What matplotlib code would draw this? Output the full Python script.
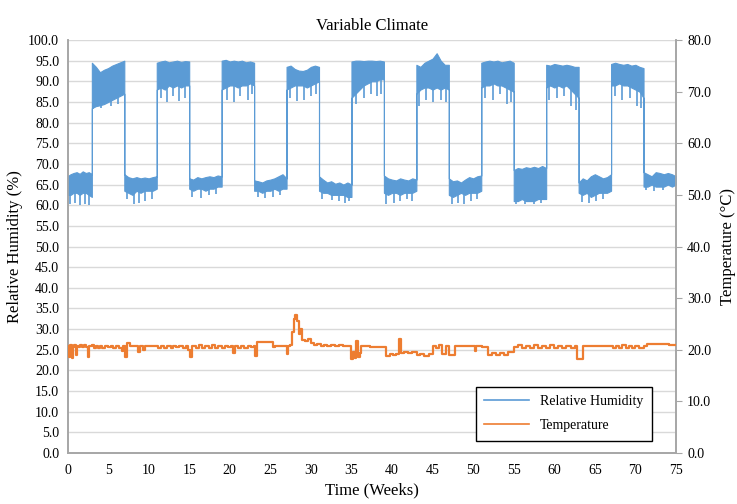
import numpy as np
import matplotlib.pyplot as plt
from matplotlib.lines import Line2D

plt.rcParams['font.family'] = ['Liberation Serif', 'DejaVu Serif']

# relative humidity: segment edges (weeks) and envelope (body low / high)
rh_edges = [0, 3, 7, 11, 15, 19, 23, 27, 31, 35, 39, 43, 47, 51, 55, 59, 63, 67, 71, 75]
rh_hi = [
    [67.0, 67.5, 67.8, 68.0, 67.6, 68.2, 67.8, 68.0, 67.5],
    [94.5, 93.5, 92.2, 92.8, 93.2, 93.8, 94.2, 94.6, 95.0],
    [67.5, 66.8, 66.5, 66.8, 66.5, 66.7, 66.5, 66.8, 67.0],
    [94.5, 94.8, 95.0, 94.6, 94.8, 95.0, 94.7, 94.9, 94.8],
    [66.5, 66.2, 66.8, 66.5, 66.8, 67.0, 66.8, 67.2, 67.0],
    [95.0, 95.2, 94.8, 95.0, 94.8, 95.0, 94.6, 94.8, 94.5],
    [66.0, 65.8, 65.5, 66.0, 66.2, 66.5, 67.0, 67.5, 66.5],
    [93.5, 93.8, 93.0, 92.6, 92.5, 92.8, 93.5, 93.8, 93.5],
    [67.0, 66.2, 65.5, 65.8, 65.2, 65.5, 65.0, 65.5, 65.0],
    [94.8, 95.0, 95.0, 94.9, 95.0, 95.0, 94.9, 95.0, 94.8],
    [67.2, 66.5, 66.2, 66.0, 66.5, 66.2, 66.0, 66.5, 66.2],
    [94.0, 93.5, 94.5, 95.0, 95.5, 96.8, 95.0, 94.0, 94.0],
    [66.5, 65.8, 66.0, 65.5, 66.2, 66.8, 66.5, 67.0, 67.2],
    [94.5, 94.8, 95.0, 94.8, 95.0, 94.6, 94.8, 95.0, 94.5],
    [68.5, 69.0, 68.8, 69.2, 69.0, 69.3, 69.0, 69.5, 69.0],
    [94.0, 93.8, 94.2, 94.0, 93.8, 94.0, 93.8, 93.5, 93.5],
    [65.5, 66.5, 66.0, 67.0, 67.5, 67.0, 66.5, 66.8, 67.5],
    [94.2, 94.5, 94.2, 94.0, 94.2, 93.8, 94.0, 93.5, 93.2],
    [68.0, 67.5, 67.0, 68.0, 67.8, 67.5, 67.8, 67.5, 67.0],
]
rh_lo = [
    [62.5, 62.5, 63.0, 63.0, 62.5, 63.0, 63.0, 62.5, 62.0],
    [83.5, 84.0, 84.2, 84.5, 85.0, 85.5, 86.0, 86.5, 87.0],
    [63.5, 63.0, 62.5, 63.5, 63.0, 63.5, 63.5, 63.5, 64.0],
    [88.0, 88.5, 88.0, 89.0, 88.5, 89.0, 88.5, 89.0, 89.0],
    [64.0, 63.5, 64.0, 64.0, 63.5, 64.0, 64.0, 64.5, 64.5],
    [88.0, 88.5, 89.0, 89.0, 88.5, 89.0, 89.0, 89.5, 89.0],
    [63.5, 63.5, 63.0, 63.5, 63.5, 64.0, 63.5, 64.0, 64.0],
    [88.0, 88.5, 89.0, 89.0, 89.0, 88.5, 89.0, 89.5, 90.0],
    [63.5, 63.0, 63.0, 62.5, 62.5, 62.5, 62.5, 62.0, 62.0],
    [86.0, 87.0, 88.0, 89.0, 89.5, 90.0, 90.0, 90.5, 90.5],
    [63.0, 62.5, 63.0, 63.0, 62.5, 63.0, 63.0, 63.0, 63.5],
    [87.0, 88.0, 88.5, 88.5, 88.0, 88.5, 88.0, 88.5, 88.0],
    [62.5, 62.0, 62.5, 63.0, 62.5, 63.0, 63.0, 63.0, 63.5],
    [88.5, 89.0, 89.0, 89.5, 89.0, 89.0, 88.5, 88.0, 87.5],
    [61.0, 61.0, 61.5, 61.0, 61.0, 61.0, 61.5, 61.5, 61.5],
    [88.5, 89.0, 88.5, 89.0, 88.5, 89.0, 88.0, 87.0, 86.0],
    [63.0, 62.5, 63.0, 62.0, 62.5, 63.0, 63.0, 63.0, 63.5],
    [89.0, 89.0, 89.5, 89.0, 89.0, 88.5, 88.0, 87.5, 86.0],
    [64.5, 64.5, 65.0, 64.5, 64.5, 64.5, 65.0, 64.5, 65.0],
]
# downward spikes below the dense band
rh_spike_weeks = [
    0.3, 0.9, 1.6, 2.2, 2.7, 3.2, 4.1, 5.3, 6.2,
    7.3, 8.2, 8.8, 9.6, 10.4, 11.5, 12.3, 13.0, 13.8, 14.5,
    15.4, 16.5, 17.5, 18.3, 19.6, 20.5, 21.3, 22.2, 22.8,
    23.5, 24.3, 25.3, 26.2, 27.4, 28.3, 29.2, 30.0, 30.6,
    31.4, 32.6, 33.5, 34.2, 34.7, 35.5, 36.5, 37.4, 38.2, 38.7,
    39.3, 40.2, 41.0, 41.8, 42.5, 43.3, 44.2, 45.1, 46.0, 46.6,
    47.4, 48.1, 48.9, 49.7, 50.5, 51.5, 52.4, 53.3, 54.2, 54.7,
    55.3, 56.4, 57.5, 58.4, 59.4, 60.3, 61.2, 62.1, 62.7,
    63.4, 64.3, 65.1, 66.0, 67.5, 68.4, 69.3, 70.2, 70.7,
    71.3, 72.3, 73.4,
]
rh_spike_vals = [
    60.2, 60.5, 60.0, 60.3, 60.0, 83.2, 83.5, 84.0, 84.6,
    61.5, 60.2, 60.5, 61.0, 61.5, 86.0, 85.0, 86.5, 85.2, 86.0,
    62.0, 61.8, 62.5, 62.8, 85.5, 85.0, 86.5, 85.5, 87.0,
    62.0, 61.8, 62.0, 62.5, 86.0, 85.2, 85.5, 86.5, 87.0,
    61.5, 61.2, 61.0, 60.5, 61.0, 84.5, 86.0, 87.0, 86.5, 87.0,
    60.2, 60.5, 61.0, 61.5, 61.0, 84.0, 85.5, 85.0, 85.5, 85.0,
    60.2, 60.5, 60.2, 61.0, 61.5, 86.0, 85.5, 87.0, 84.5, 85.0,
    60.2, 60.3, 60.2, 60.5, 85.5, 86.0, 86.5, 84.0, 83.0,
    60.8, 60.5, 61.0, 61.5, 86.5, 85.5, 86.0, 84.0, 83.5,
    63.8, 63.5, 63.8,
]

# temperature (deg C)
temp_weeks = [
    0.0, 0.2, 0.35, 0.5, 0.65, 0.8, 1.0, 1.15, 1.4, 1.6, 1.8, 2.0, 2.3, 2.5, 2.7,
    3.0, 3.3, 3.5, 3.8, 4.0, 4.3, 4.6, 5.0, 5.3, 5.6, 6.0, 6.4, 6.7, 6.9, 7.1,
    7.3, 7.7, 8.7, 8.9, 9.3, 9.5, 10.9, 11.2, 11.5, 11.9, 12.3, 12.7, 13.0, 13.4,
    13.8, 14.2, 14.6, 14.9, 15.1, 15.4, 15.8, 16.2, 16.6, 17.0, 17.4, 17.8, 18.2,
    18.6, 19.0, 19.4, 19.8, 20.2, 20.4, 20.6, 21.0, 21.4, 21.8, 22.2, 22.6, 23.0,
    23.1, 23.4, 25.3, 25.5, 25.6, 27.0, 27.2, 27.4, 27.7, 27.9, 28.1, 28.3, 28.5,
    28.7, 28.9, 29.3, 29.7, 30.0, 30.4, 30.8, 31.2, 31.6, 32.0, 32.5, 33.0, 33.5,
    34.0, 34.3, 35.0, 35.2, 35.4, 35.6, 35.8, 36.0, 36.2, 37.3, 39.0, 39.3, 39.7,
    40.1, 40.5, 40.9, 41.1, 41.5, 42.0, 42.5, 43.1, 43.5, 44.0, 44.5, 45.0, 45.4,
    45.8, 46.2, 46.6, 47.0, 47.8, 50.0, 50.2, 50.4, 51.1, 51.8, 52.3, 52.8, 53.3,
    53.8, 54.3, 55.0, 55.5, 56.0, 56.5, 57.0, 57.5, 58.0, 58.5, 59.0, 59.5, 60.0,
    60.5, 61.0, 61.5, 62.0, 62.5, 62.8, 63.6, 66.8, 67.2, 67.6, 68.0, 68.4, 68.8,
    69.2, 69.6, 70.0, 70.5, 71.0, 71.4, 74.2, 75.0,
]
temp_vals = [
    20.8, 18.6, 20.9, 18.4, 20.6, 21.0, 19.0, 20.8, 20.5, 21.0, 20.6, 20.9, 20.5, 18.6, 20.7,
    20.9, 20.4, 20.8, 20.4, 20.8, 20.3, 20.8, 20.5, 20.8, 20.4, 20.8, 20.3, 19.8, 20.8, 18.6,
    21.3, 20.8, 19.6, 20.8, 19.9, 20.8, 20.8, 20.3, 20.8, 20.4, 20.8, 20.3, 20.8, 20.5,
    20.8, 20.3, 20.8, 19.9, 18.6, 20.8, 20.4, 20.9, 20.3, 20.8, 20.4, 20.9, 20.3,
    20.8, 20.4, 20.8, 20.5, 20.8, 19.3, 20.8, 20.4, 20.8, 20.3, 20.8, 20.5, 20.8,
    18.8, 21.5, 20.6, 20.6, 20.8, 19.1, 20.8, 21.0, 23.5, 26.0, 26.7, 25.5, 23.0,
    24.0, 21.8, 21.6, 22.0, 21.3, 20.9, 21.1, 20.8, 21.0, 20.8, 21.0, 20.8, 21.0,
    20.8, 20.8, 18.2, 19.5, 18.4, 21.6, 18.6, 19.4, 20.8, 20.5, 20.5, 18.8, 19.2,
    18.9, 19.2, 22.0, 19.4, 19.6, 19.3, 19.6, 18.9, 19.2, 18.8, 19.1, 20.7, 20.3,
    21.0, 19.2, 20.8, 19.0, 20.8, 20.8, 19.7, 20.8, 20.6, 19.0, 19.4, 18.9, 19.3,
    19.0, 19.5, 20.5, 20.9, 20.3, 20.8, 20.4, 20.9, 20.3, 20.8, 20.4, 20.9, 20.3,
    20.8, 20.4, 20.8, 20.3, 20.7, 18.2, 20.8, 20.8, 20.3, 20.8, 20.4, 20.9, 20.3,
    20.8, 20.4, 20.8, 20.3, 20.8, 21.2, 21.0, 21.0,
]

blue = '#5B9BD5'
orange = '#ED7D31'
grey = '#a6a6a6'


def main():
    fig = plt.figure(figsize=(7.37, 5.04), dpi=100)
    ax = fig.add_axes([0.0916, 0.1012, 0.8256, 0.8194])
    ax2 = ax.twinx()

    # stitch segments into one envelope (repeated x at the edges gives the vertical jumps)
    xs, lo, hi = [], [], []
    for i in range(len(rh_hi)):
        n = len(rh_hi[i])
        xs.extend(np.linspace(rh_edges[i], rh_edges[i + 1], n))
        lo.extend(rh_lo[i])
        hi.extend(rh_hi[i])
    ax.fill_between(xs, lo, hi, color=blue, linewidth=0.8, edgecolor=blue, zorder=3)
    body = np.interp(rh_spike_weeks, xs, lo)
    ax.vlines(rh_spike_weeks, rh_spike_vals, body + 1, color=blue, linewidth=1.2, zorder=3)

    ax2.plot(temp_weeks, temp_vals, color=orange, linewidth=1.6, drawstyle='steps-post', zorder=3)

    ax.set_xlim(0, 75)
    ax.set_ylim(0, 100)
    ax2.set_ylim(0, 80)
    ax.set_xticks(range(0, 76, 5))
    ax.set_yticks(np.arange(0, 100.1, 5))
    ax.set_yticklabels(['%.1f' % v for v in np.arange(0, 100.1, 5)])
    ax2.set_yticks(np.arange(0, 80.1, 10))
    ax2.set_yticklabels(['%.1f' % v for v in np.arange(0, 80.1, 10)])

    ax.grid(axis='y', color='#d9d9d9', linewidth=1.0, zorder=0)
    ax.set_axisbelow(True)
    ax.tick_params(axis='both', length=0, labelsize=10, pad=6)
    ax.tick_params(axis='x', pad=8)
    ax2.tick_params(axis='y', length=4, color=grey, labelsize=10, pad=4)

    for a in (ax, ax2):
        a.spines['top'].set_visible(False)
        for s in ('left', 'right', 'bottom'):
            a.spines[s].set_color(grey)
            a.spines[s].set_linewidth(1.2)

    ax.set_title('Variable Climate', fontsize=12, pad=7)
    ax.set_xlabel('Time (Weeks)', fontsize=12, labelpad=4)
    ax.set_ylabel('Relative Humidity (%)', fontsize=12, labelpad=4)
    ax2.set_ylabel('Temperature (°C)', fontsize=12, labelpad=6)

    handles = [Line2D([], [], color=blue, linewidth=1.2), Line2D([], [], color=orange, linewidth=1.2)]
    leg = ax.legend(handles, ['Relative Humidity', 'Temperature'], loc='upper left',
                    bbox_to_anchor=(0.66, 0.177), fontsize=10, frameon=True, fancybox=False,
                    edgecolor='black', framealpha=1, handlelength=3.2, borderpad=0.6,
                    labelspacing=0.8)
    leg.get_frame().set_linewidth(1.0)
    leg.set_zorder(5)

    fig.savefig('out.png', dpi=100)


if __name__ == '__main__':
    main()
